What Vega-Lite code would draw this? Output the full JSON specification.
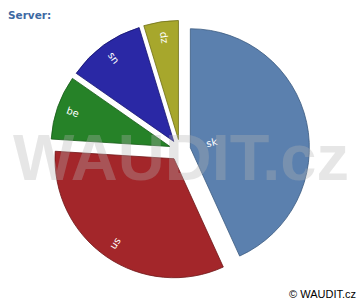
{
  "$schema": "https://vega.github.io/schema/vega-lite/v6.json",
  "width": 360,
  "height": 300,
  "autosize": {"type": "none"},
  "padding": 0,
  "background": "white",
  "config": {"view": {"stroke": null}},
  "title": {"text": "Server:", "anchor": "start", "frame": "group", "orient": "top", "offset": -29, "dx": 8, "baseline": "alphabetic", "font": "DejaVu Sans", "fontSize": 10.5, "fontWeight": "bold", "color": "#3d69a3"},
  "layer": [
    {
      "data": {"values": [
        {"server": "sk", "pct": 43.2, "ord": 1},
        {"server": "us", "pct": 32.8, "ord": 2},
        {"server": "be", "pct": 8.7, "ord": 3},
        {"server": "sn", "pct": 10.6, "ord": 4},
        {"server": "zp", "pct": 4.7, "ord": 5}
      ]},
      "transform": [
        {"stack": "pct", "groupby": [], "sort": [{"field": "ord", "order": "ascending"}], "as": ["a0", "a1"]},
        {"calculate": "(datum.a0 + datum.a1) / 2", "as": "mid"}
      ],
      "layer": [
        {
          "mark": {"type": "arc", "outerRadius": 119, "strokeWidth": 0.8,
            "xOffset": {"expr": "10.6 * sin(PI * datum.mid / 50)"},
            "yOffset": {"expr": "-10.6 * cos(PI * datum.mid / 50)"}},
          "encoding": {
            "theta": {"field": "a0", "type": "quantitative", "scale": {"domain": [0, 100]}},
            "theta2": {"field": "a1"},
            "color": {"field": "server", "type": "nominal", "legend": null,
              "scale": {"domain": ["sk", "us", "be", "sn", "zp"], "range": ["#5b80ae", "#a3262a", "#268228", "#2a28a5", "#a7a72c"]}},
            "stroke": {"field": "server", "type": "nominal", "legend": null,
              "scale": {"domain": ["sk", "us", "be", "sn", "zp"], "range": ["#3b5a80", "#6e1517", "#155a17", "#17156e", "#6f6f15"]}}
          }
        },
        {
          "mark": {"type": "text", "color": "white", "fontSize": 10, "font": "DejaVu Sans", "align": "center", "baseline": "middle",
            "radius": {"expr": "datum.server == 'sk' ? 22 : 103"},
            "angle": {"expr": "(datum.mid * 3.6 - 90 > 90 && datum.mid * 3.6 - 90 < 255) ? datum.mid * 3.6 - 270 : datum.mid * 3.6 - 90"},
            "xOffset": {"expr": "10.6 * sin(PI * datum.mid / 50)"},
            "yOffset": {"expr": "-10.6 * cos(PI * datum.mid / 50)"}},
          "encoding": {
            "theta": {"field": "mid", "type": "quantitative"},
            "text": {"field": "server"}
          }
        }
      ]
    },
    {
      "data": {"values": [{"label": "WAUDIT.cz"}]},
      "mark": {"type": "text", "font": "Liberation Sans", "fontWeight": "bold", "fontSize": 65, "fill": "#b4b4b4", "fillOpacity": 0.33, "align": "center", "baseline": "alphabetic", "dy": 30, "dx": 1},
      "encoding": {"text": {"field": "label"}}
    },
    {
      "data": {"values": [{"label": "© WAUDIT.cz"}]},
      "mark": {"type": "text", "font": "Liberation Sans", "fontWeight": "normal", "fontSize": 11, "color": "black", "align": "right", "baseline": "alphabetic",
        "x": {"expr": "width - 4"}, "y": {"expr": "height - 2"}},
      "encoding": {"text": {"field": "label"}}
    }
  ]
}
